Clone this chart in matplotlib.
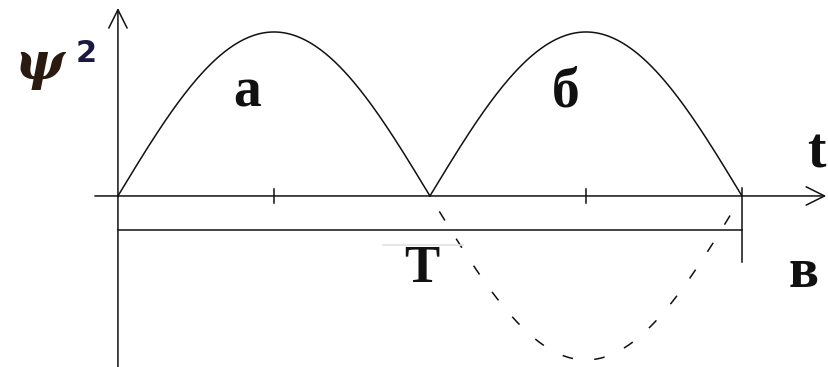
import numpy as np
import matplotlib
matplotlib.use("Agg")
import matplotlib.pyplot as plt

# ---- data ----
T = 1.0                      # period
amplitude = 1.0
ticks = [0.5, 1.5]           # small tick marks on the t axis
arc_labels = ["а", "б"]
arc_label_x = [0.413, 1.436]
period_label = "T"
sub_label = "в"
y_label_sym = "ψ"
y_label_pow = "2"
x_label = "t"

fig = plt.figure(figsize=(8.29, 3.67), dpi=100)
ax = fig.add_axes([0, 0, 1, 1])
ax.set_xlim(-0.378, 2.279)
ax.set_ylim(-1.043, 1.195)
ax.axis("off")

lc = "#111111"
lw = 1.1

# arcs a and б (|sin|)
ta = np.linspace(0, T, 200)
ax.plot(ta, amplitude * np.abs(np.sin(np.pi * ta / T)), color=lc, lw=lw)
tb = np.linspace(T, 2 * T, 200)
ax.plot(tb, amplitude * np.abs(np.sin(np.pi * tb / T)), color=lc, lw=lw)
# dashed negative half-wave
td = np.linspace(1.03 * T, 1.98 * T, 200)
ax.plot(td, amplitude * np.sin(np.pi * td / T), color=lc, lw=lw,
        linestyle=(0, (7, 14)))

# axes arrows
ax.annotate("", xy=(2.27, 0), xytext=(-0.074, 0),
            arrowprops=dict(arrowstyle="->,head_width=0.3,head_length=0.6",
                            color=lc, lw=lw,
                            mutation_scale=22, shrinkA=0, shrinkB=0))
ax.annotate("", xy=(0, 1.146), xytext=(0, -1.05),
            arrowprops=dict(arrowstyle="->,head_width=0.3,head_length=0.6",
                            color=lc, lw=lw,
                            mutation_scale=22, shrinkA=0, shrinkB=0))

# ticks
for tk in ticks:
    ax.plot([tk * T, tk * T], [-0.04, 0.04], color=lc, lw=lw)

# period bracket
ax.plot([0, 2 * T], [-0.207, -0.207], color=lc, lw=lw)
ax.plot([2 * T, 2 * T], [0.049, -0.40], color=lc, lw=lw)
# faint overline above T
ax.plot([0.85, 1.106], [-0.299, -0.299], color="#e0e0e0", lw=1.2)

serif = "Liberation Serif"
for lab, lx in zip(arc_labels, arc_label_x):
    ax.text(lx, 0.628, lab, fontsize=40, fontfamily=serif, fontweight="bold",
            ha="center", va="center", color=lc)
ax.text(0.974, -0.445, period_label, fontsize=38, fontfamily=serif,
        fontweight="bold", ha="center", va="center", color=lc)
ax.text(2.196, -0.47, sub_label, fontsize=40, fontfamily=serif,
        fontweight="bold", ha="center", va="center", color=lc)
ax.text(2.24, 0.26, x_label, fontsize=40, fontfamily=serif,
        fontweight="bold", ha="center", va="center", color=lc)
ax.text(-0.25, 0.80, y_label_sym, fontsize=38, fontfamily="DejaVu Serif",
        fontstyle="italic", fontweight="bold", ha="center", va="center",
        color="#2a1a10")
ax.text(-0.103, 0.87, y_label_pow, fontsize=22, fontfamily="DejaVu Sans",
        fontweight="bold", ha="center", va="center", color="#1a1a40")

fig.savefig("out.png", dpi=100)
